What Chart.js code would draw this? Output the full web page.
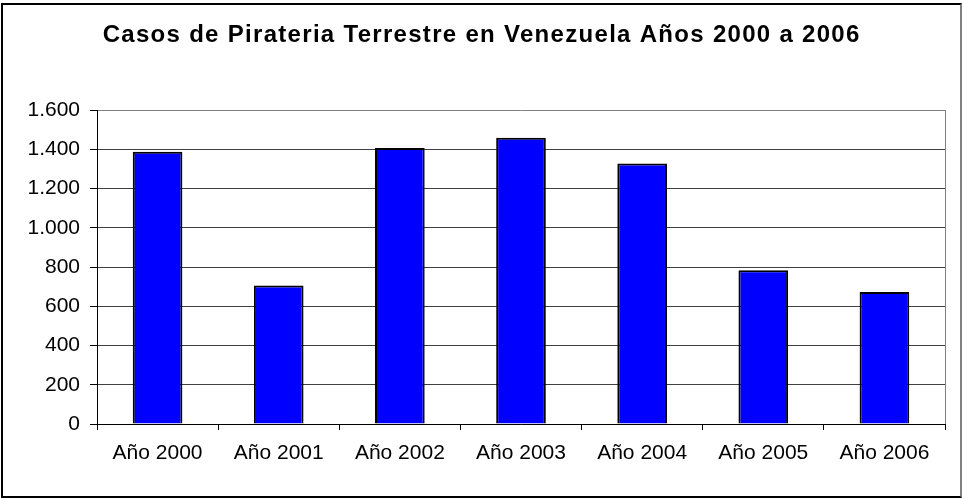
<!DOCTYPE html>
<html>
<head>
<meta charset="utf-8">
<script src="https://cdn.jsdelivr.net/npm/chart.js@4.4.1/dist/chart.umd.min.js"></script>
<style>
    html, body { margin: 0; padding: 0; background: #fff; }
    #wrap { position: relative; width: 962px; height: 498px; }
    #frame {
        position: absolute; left: 1px; top: 3px; width: 957px; height: 491px;
        border: 2px solid #000; border-right-color: #808080;
        pointer-events: none;
    }
</style>
</head>
<body>
<div id="wrap">
    <canvas id="piracyChart" width="962" height="498"></canvas>
    <div id="frame"></div>
</div>
<script>
const years = ["Año 2000", "Año 2001", "Año 2002", "Año 2003", "Año 2004", "Año 2005", "Año 2006"];
const cases = [1387, 706, 1406, 1459, 1328, 784, 672];
const yTicks = [0, 200, 400, 600, 800, 1000, 1200, 1400, 1600];
const chartTitle = "Casos de Pirateria Terrestre en Venezuela Años 2000 a 2006";

const labelFont = { family: "'Liberation Sans', Arial, sans-serif", size: 21 };
const titleFont = "bold 24px 'Liberation Sans', Arial, sans-serif";
const titleSpacing = 1.3;

function formatThousands(v) {
    return String(v).replace(/\B(?=(\d{3})+(?!\d))/g, ".");
}

// plot area right edge (thin gray) + the spaced-out title text
const extras = {
    id: "extras",
    afterDraw(chart) {
        let a = chart.chartArea;
        let ctx = chart.ctx;
        ctx.save();
        ctx.strokeStyle = "#808080";
        ctx.lineWidth = 1;
        ctx.beginPath();
        ctx.moveTo(a.right + 0.5, a.top);
        ctx.lineTo(a.right + 0.5, a.bottom);
        ctx.stroke();

        // title plugin only reserves the space, text is drawn here with letter spacing
        let tb = chart.titleBlock;
        ctx.font = titleFont;
        ctx.fillStyle = "#000";
        ctx.letterSpacing = titleSpacing + "px";
        ctx.textAlign = "center";
        ctx.textBaseline = "middle";
        let cx = (chart.width + titleSpacing) / 2;
        ctx.fillText(chartTitle, cx, tb.top + 35);
        ctx.restore();
    }
};

document.addEventListener("DOMContentLoaded", function () {
    let ctx = document.getElementById("piracyChart").getContext("2d");
    new Chart(ctx, {
        type: "bar",
        data: {
            labels: years,
            datasets: [{
                data: cases,
                backgroundColor: "#0000FF",
                borderColor: "#000000",
                borderWidth: 2,
                categoryPercentage: 1,
                barPercentage: 0.41
            }]
        },
        plugins: [extras],
        options: {
            responsive: false,
            devicePixelRatio: 1,
            animation: false,
            layout: { padding: { left: 0, right: 17, top: 0, bottom: 0 } },
            plugins: {
                legend: { display: false },
                tooltip: { enabled: false },
                title: {
                    display: true,
                    text: chartTitle,
                    color: "rgba(0,0,0,0)",
                    font: { family: "'Liberation Sans', Arial, sans-serif", size: 20, weight: "bold" },
                    padding: { top: 21, bottom: 65 }
                }
            },
            scales: {
                x: {
                    grid: {
                        offset: true,
                        drawOnChartArea: false,
                        color: "#000",
                        tickLength: 6
                    },
                    border: { color: "#000", width: 1 },
                    ticks: { color: "#000", font: labelFont, padding: 11, maxRotation: 0 },
                    afterFit(scale) { scale.height = 74; }
                },
                y: {
                    min: 0,
                    max: 1600,
                    afterBuildTicks(scale) {
                        scale.ticks = yTicks.map(v => ({ value: v }));
                    },
                    grid: {
                        color: c => (c.tick && c.tick.value === 1600 ? "#808080" : "#404040"),
                        tickColor: "#000",
                        tickLength: 7
                    },
                    border: { color: "#000", width: 1 },
                    ticks: {
                        color: "#000",
                        font: labelFont,
                        padding: 10,
                        callback: v => formatThousands(v)
                    },
                    afterFit(scale) { scale.width = 97; }
                }
            }
        }
    });
});
</script>
</body>
</html>
